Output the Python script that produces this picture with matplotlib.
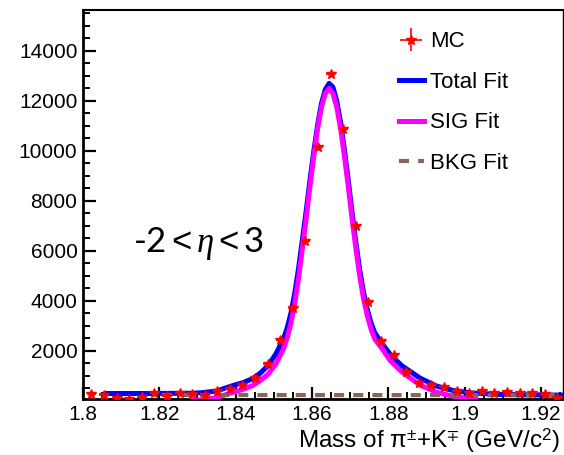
import numpy as np
import matplotlib
matplotlib.use("Agg")
import matplotlib.pyplot as plt
from matplotlib.ticker import MultipleLocator

plt.rcParams['font.family'] = ['Liberation Sans', 'DejaVu Sans']
plt.rcParams['mathtext.fontset'] = 'custom'
plt.rcParams['mathtext.rm'] = 'Liberation Sans'
plt.rcParams['mathtext.it'] = 'Liberation Serif:italic'
plt.rcParams['mathtext.fallback'] = 'stixsans'

# MC histogram points (bin centres, counts)
mc_x = [1.8022, 1.8055, 1.8088, 1.8121, 1.8154, 1.8187, 1.8220, 1.8253, 1.8286, 1.8319,
        1.8352, 1.8385, 1.8418, 1.8451, 1.8484, 1.8517, 1.8550, 1.8583, 1.8616, 1.8649,
        1.8682, 1.8715, 1.8748, 1.8781, 1.8814, 1.8847, 1.8880, 1.8913, 1.8946, 1.8979,
        1.9012, 1.9045, 1.9078, 1.9111, 1.9144, 1.9177, 1.9210, 1.9243]
mc_y = [250, 230, 120, 60, 150, 290, 180, 310, 260, 220,
        380, 450, 640, 900, 1480, 2420, 3720, 6370, 10170, 13060,
        10860, 6970, 3940, 2380, 1820, 1150, 720, 640, 550, 370,
        300, 370, 310, 330, 310, 310, 250, 120]

# Signal fit curve
sig_x = [1.8286, 1.8310, 1.8350, 1.8393, 1.8420, 1.8445, 1.8465, 1.8485, 1.8505, 1.8525,
         1.8535, 1.8545, 1.8555, 1.8565, 1.8575, 1.8585, 1.8595, 1.8605, 1.8615, 1.8625,
         1.8635, 1.8645, 1.8655, 1.8665, 1.8675, 1.8685, 1.8695, 1.8705, 1.8715, 1.8725,
         1.8735, 1.8745, 1.8755, 1.8765, 1.8785, 1.8805, 1.8835, 1.8883, 1.8926, 1.8970,
         1.9014, 1.9030]
sig_y = [0, 30, 110, 330, 450, 600, 800, 1050, 1450, 2050,
         2500, 3100, 3900, 4900, 6100, 7300, 8600, 9800, 10900, 11750,
         12300, 12500, 12300, 11750, 10900, 9800, 8600, 7300, 6100, 5000,
         4100, 3400, 2850, 2450, 2050, 1600, 1150, 620, 330, 170,
         70, 40]

# Total fit curve
tot_x = [1.8060, 1.8150, 1.8220, 1.8286, 1.8310, 1.8350, 1.8393, 1.8420, 1.8445, 1.8465,
         1.8485, 1.8505, 1.8525, 1.8535, 1.8545, 1.8555, 1.8565, 1.8575, 1.8585, 1.8595,
         1.8605, 1.8615, 1.8625, 1.8635, 1.8645, 1.8655, 1.8665, 1.8675, 1.8685, 1.8695,
         1.8705, 1.8715, 1.8725, 1.8735, 1.8745, 1.8755, 1.8765, 1.8785, 1.8805, 1.8835,
         1.8883, 1.8926, 1.8970, 1.9014, 1.9030, 1.9100, 1.9180, 1.9258]
tot_y = [280, 280, 285, 290, 310, 380, 600, 720, 880, 1100,
         1400, 1850, 2450, 2900, 3500, 4300, 5300, 6450, 7600, 8850,
         10000, 11050, 11900, 12450, 12700, 12550, 12000, 11150, 10050, 8850,
         7550, 6350, 5250, 4350, 3650, 3100, 2700, 2250, 1850, 1400,
         900, 580, 400, 310, 290, 240, 225, 215]

# Background fit
bkg_x = [1.8206, 1.9258]
bkg_y = [220, 215]

fig = plt.figure(figsize=(5.64, 4.55), dpi=100)
ax = fig.add_axes([83/564, 56/455, 480/564, 389/455])

mc = ax.errorbar(mc_x, mc_y, yerr=np.sqrt(mc_y), xerr=0.0012, fmt='*', color='#ff0000',
                 markersize=7, elinewidth=1.2, capsize=0, label='MC', zorder=5)
l1, = ax.plot(tot_x, tot_y, color='#0000ff', lw=3.6, label='Total Fit', zorder=3)
l2, = ax.plot(sig_x, sig_y, color='#ff00ff', lw=3.6, label='SIG Fit', zorder=4)
l3, = ax.plot(bkg_x, bkg_y, color='#866658', lw=3.0, dashes=(2.4, 2.2), label='BKG Fit', zorder=4)

ax.set_xlim(1.8, 1.9258)
ax.set_ylim(60, 15640)
ax.xaxis.set_minor_locator(MultipleLocator(0.005))
ax.yaxis.set_minor_locator(MultipleLocator(500))
ax.set_xticks([1.8, 1.82, 1.84, 1.86, 1.88, 1.9, 1.92])
ax.set_xticklabels(['1.8', '1.82', '1.84', '1.86', '1.88', '1.9', '1.92'])
ax.set_yticks([2000, 4000, 6000, 8000, 10000, 12000, 14000])
ax.tick_params(axis='both', which='major', direction='in', length=9, width=1.6,
               labelsize=15, pad=4)
ax.tick_params(axis='both', which='minor', direction='in', length=5, width=1.4)
ax.tick_params(top=False, right=False, which='both')

ax.spines['left'].set_linewidth(2.0)
ax.spines['bottom'].set_linewidth(2.0)
ax.spines['top'].set_linewidth(1.5)
ax.spines['right'].set_linewidth(1.0)

ax.set_xlabel(r'Mass of $\mathrm{\pi}^{\pm}$+K$^{\mp}$ (GeV/c$^{2}$)', fontsize=17.5,
              ha='right')
ax.xaxis.set_label_coords(0.993, -0.07)

ax.text(133, 212, r'-2$<\eta<$3', transform=None, fontsize=25, family='Lato',
        va='center', ha='left')

leg = ax.legend([mc, l1, l2, l3], ['MC', 'Total Fit', 'SIG Fit', 'BKG Fit'],
                loc='upper left', bbox_to_anchor=(0.64, 0.968), frameon=False,
                fontsize=16, handlelength=1.1, handletextpad=0.3, labelspacing=0.88,
                borderaxespad=0)

fig.savefig('out.png', dpi=100)
